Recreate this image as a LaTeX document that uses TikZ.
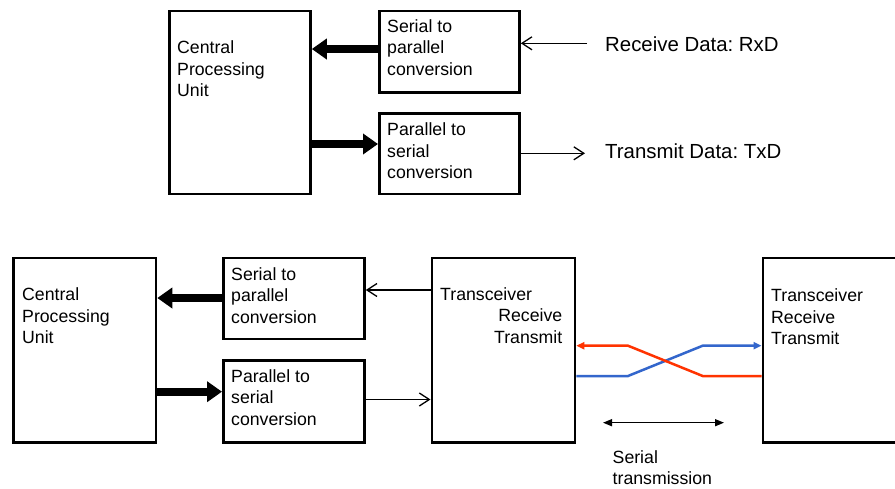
\documentclass[tikz,border=0pt]{standalone}
\usepackage{fontspec}
\setmainfont{Liberation Sans}
\usetikzlibrary{arrows.meta}
\definecolor{redline}{RGB}{255,51,0}
\definecolor{blueline}{RGB}{51,102,204}
\frenchspacing
\begin{document}
\begin{tikzpicture}[x=1pt,y=-1pt,
  box/.style={draw,line width=2.8pt,inner sep=0pt,anchor=north west},
  txt/.style={anchor=north west,inner sep=0pt,align=left,font=\fontsize{17.7}{21.5}\selectfont},
  txtr/.style={anchor=north east,inner sep=0pt,align=right,font=\fontsize{17.7}{21.5}\selectfont},
  lbl/.style={anchor=north west,inner sep=0pt,font=\fontsize{20.4}{24}\selectfont},
  bigarrow/.style={line width=8pt,-{Triangle[length=15pt,width=20pt]}},
  thinarrow/.style={line width=1.3pt,-{Straight Barb[length=10pt,width=13pt]}},
  colarrow/.style={line width=2.5pt,line join=miter,-{Triangle[length=8pt,width=7pt]}},
  dblarrow/.style={line width=1.5pt,{Triangle[length=9pt,width=7pt]}-{Triangle[length=9pt,width=7pt]}}]
\fill[white] (0,0) rectangle (895,488);
\useasboundingbox (0,0) rectangle (895,488);

% ---------- top diagram ----------
\node[box,minimum width=141pt,minimum height=183pt] (cpu1) at (168,9.5) {};
\node[box,minimum width=140pt,minimum height=81.5pt] (sp1) at (378,9.5) {};
\node[box,minimum width=140pt,minimum height=80.5pt] (ps1) at (378,112) {};

\node[txt] (cpu1t) at (177,40.6) {Central\\Processing\\Unit};
\node[txt] (sp1t) at (387,19.1) {Serial to\\parallel\\conversion};
\node[txt] (ps1t) at (387,122.6) {Parallel to\\serial\\conversion};

\coordinate (rxd) at (587,43.3);
\coordinate (txd) at (585,153.3);
\node[lbl] (rxdl) at (605,36.2) {Receive Data: RxD};
\node[lbl] (txdl) at (605,143.5) {Transmit Data: TxD};

\draw[bigarrow] (sp1.west |- 0,49) -- (cpu1.east |- 0,49);
\draw[bigarrow] (cpu1.east |- 0,144) -- (ps1.west |- 0,144);
\draw[thinarrow] (rxd) -- (sp1.east |- rxd);
\draw[thinarrow] (ps1.east |- txd) -- (txd);

% ---------- bottom diagram ----------
\node[box,minimum width=142.5pt,minimum height=184.5pt] (cpu2) at (12,256.5) {};
\node[box,minimum width=141pt,minimum height=81pt] (sp2) at (222,256.5) {};
\node[box,minimum width=141pt,minimum height=82pt] (ps2) at (222,359) {};
\node[box,minimum width=143pt,minimum height=184.5pt] (tr1) at (430.5,256.5) {};
\node[box,minimum width=150pt,minimum height=184.5pt] (tr2) at (761.5,256.5) {};

\node[txt] (cpu2t) at (22,287.6) {Central\\Processing\\Unit};
\node[txt] (sp2t) at (231,267.1) {Serial to\\parallel\\conversion};
\node[txt] (ps2t) at (231,369.1) {Parallel to\\serial\\conversion};
\node[txt] (tr1t) at (440,287.1) {Transceiver};
\node[txtr] (tr1r) at (562.5,308.8) {Receive\\Transmit};
\node[txt] (tr2t) at (771,288.6) {Transceiver\\Receive\\Transmit};

\draw[bigarrow] (sp2.west |- 0,298) -- (cpu2.east |- 0,298);
\draw[bigarrow] (cpu2.east |- 0,391.7) -- (ps2.west |- 0,391.7);
\draw[thinarrow] (tr1.west |- 0,290) -- (sp2.east |- 0,290);
\draw[thinarrow] (ps2.east |- 0,399.5) -- (tr1.west |- 0,399.5);

\coordinate (xa) at (628,345.7);
\coordinate (xb) at (702.7,345.7);
\coordinate (xc) at (628,376);
\coordinate (xd) at (702.7,376);
\draw[colarrow,blueline] (tr1.east |- xc) -- (xc) -- (xb) -- (tr2.west |- xb);
\draw[colarrow,redline] (tr2.west |- xd) -- (xd) -- (xa) -- (tr1.east |- xa);

\coordinate (sl) at (603,422.7);
\coordinate (sr) at (724,422.7);
\draw[dblarrow] (sl) -- (sr);
\node[txt] (stl) at (612.5,450) {Serial\\transmission};
\end{tikzpicture}
\end{document}
